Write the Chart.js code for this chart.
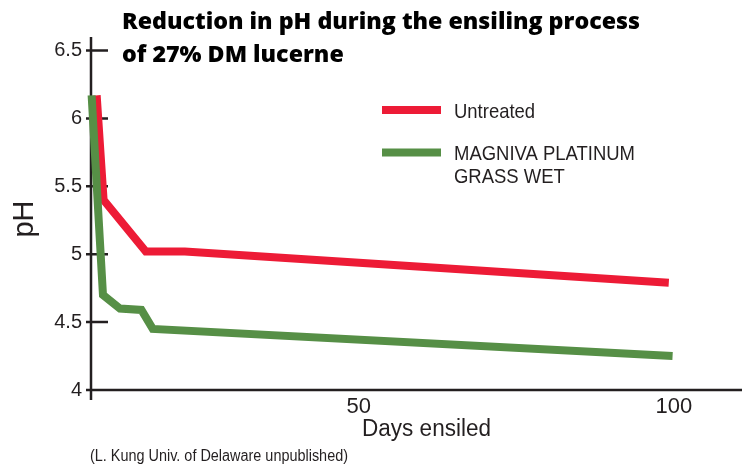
<!DOCTYPE html>
<html>
<head>
<meta charset="utf-8">
<script src="https://cdn.jsdelivr.net/npm/chart.js@4.4.1/dist/chart.umd.min.js"></script>
<style>
  html, body { margin: 0; padding: 0; background: #fff; }
  #wrap { width: 742px; height: 470px; }
</style>
</head>
<body>
<div id="wrap"><canvas id="chart" width="742" height="470"></canvas></div>
<script>
// ── Data ──
const untreatedDays = [8.4, 9.5, 16.2, 22.4, 99.2];
const untreatedPH   = [6.17, 5.40, 5.02, 5.02, 4.79];
const magnivaDays   = [7.6, 9.4, 12.1, 15.5, 17.3, 99.8];
const magnivaPH     = [6.17, 4.70, 4.60, 4.59, 4.45, 4.25];
const seriesNames   = ['Untreated', 'MAGNIVA PLATINUM\nGRASS WET'];
const xTicks = [50, 100];
const yTicks = [4, 4.5, 5, 5.5, 6, 6.5];
const titleLines = ['Reduction in pH during the ensiling process', 'of 27% DM lucerne'];
const xTitle = 'Days ensiled';
const yTitle = 'pH';
const sourceNote = '(L. Kung Univ. of Delaware unpublished)';

const INK = '#231f20';
const RED = '#ed1b36';
const GREEN = '#568f46';
const FONT = '"Liberation Sans", Arial, sans-serif';
const FONT_T = '"Open Sans", "Liberation Sans", sans-serif';

function toPoints(xs, ys) {
  return xs.map((x, i) => ({ x, y: ys[i] }));
}

// draws text stretched or squeezed horizontally by factor sx
function textScaled(ctx, text, x, y, sx) {
  ctx.save();
  ctx.translate(x, y);
  ctx.scale(sx, 1);
  ctx.fillText(text, 0, 0);
  ctx.restore();
}

// ── Axes lines and tick marks ──
const axesPlugin = {
  id: 'axesLines',
  beforeDatasetsDraw(chart) {
    const { ctx, chartArea: a, scales } = chart;
    ctx.save();
    ctx.strokeStyle = INK;
    ctx.lineWidth = 2.5;
    ctx.beginPath();
    ctx.moveTo(a.left, a.top);
    ctx.lineTo(a.left, a.bottom + 10);
    ctx.moveTo(a.left - 5, a.bottom);
    ctx.lineTo(742, a.bottom);
    yTicks.forEach(v => {
      const y = scales.y.getPixelForValue(v);
      ctx.moveTo(a.left - 5, y);
      ctx.lineTo(a.left + 17, y);
    });
    ctx.stroke();
    ctx.restore();
  }
};

// ── Title, legend, axis titles, source ──
const textPlugin = {
  id: 'texts',
  afterDraw(chart) {
    const { ctx } = chart;
    ctx.save();
    ctx.textBaseline = 'alphabetic';
    ctx.textAlign = 'left';

    // title
    ctx.fillStyle = '#000';
    ctx.font = '800 22px ' + FONT_T;
    const tsx = 518 / ctx.measureText(titleLines[0]).width;
    textScaled(ctx, titleLines[0], 122, 29, tsx);
    textScaled(ctx, titleLines[1], 122, 62, tsx);

    // legend
    const ds = chart.data.datasets;
    const rows = [110, 152.5];
    ctx.font = '21px ' + FONT;
    const lsx = 181 / ctx.measureText('MAGNIVA PLATINUM').width;
    ds.forEach((d, i) => {
      ctx.fillStyle = d.borderColor;
      ctx.fillRect(382, rows[i] - 4, 59, 8);
      ctx.fillStyle = INK;
      seriesNames[i].split('\n').forEach((line, k) => {
        textScaled(ctx, line, 454, rows[i] + 7.5 + k * 22.5, lsx);
      });
    });

    // x title
    ctx.fillStyle = INK;
    ctx.font = '23px ' + FONT;
    textScaled(ctx, xTitle, 362, 436, 129 / ctx.measureText(xTitle).width);

    // y title
    ctx.save();
    ctx.translate(33, 219);
    ctx.rotate(-Math.PI / 2);
    ctx.textAlign = 'center';
    ctx.font = '29px ' + FONT;
    ctx.fillText(yTitle, 0, 0);
    ctx.restore();

    // source
    ctx.font = '16px ' + FONT;
    textScaled(ctx, sourceNote, 90, 461, 258 / ctx.measureText(sourceNote).width);
    ctx.restore();
  }
};

new Chart(document.getElementById('chart'), {
  type: 'line',
  data: {
    datasets: [
      {
        label: seriesNames[0],
        data: toPoints(untreatedDays, untreatedPH),
        borderColor: RED,
        backgroundColor: RED,
        borderWidth: 8,
        borderCapStyle: 'butt',
        borderJoinStyle: 'miter',
        pointRadius: 0,
        tension: 0,
        clip: false,
        order: 2,
      },
      {
        label: seriesNames[1],
        data: toPoints(magnivaDays, magnivaPH),
        borderColor: GREEN,
        backgroundColor: GREEN,
        borderWidth: 8,
        borderCapStyle: 'butt',
        borderJoinStyle: 'miter',
        pointRadius: 0,
        tension: 0,
        clip: false,
        order: 1,
      },
    ],
  },
  options: {
    responsive: false,
    animation: false,
    layout: { padding: { top: 37, right: 2, left: 0, bottom: 0 } },
    plugins: { legend: { display: false }, title: { display: false }, tooltip: { enabled: false } },
    scales: {
      x: {
        type: 'linear',
        min: 7.5,
        max: 110.5,
        afterBuildTicks: s => { s.ticks = xTicks.map(v => ({ value: v })); },
        afterFit: s => { s.height = 80; },
        grid: { display: false, drawTicks: false },
        border: { display: false },
        ticks: { color: INK, font: { family: FONT, size: 22 }, padding: 4, maxRotation: 0, autoSkip: false },
      },
      y: {
        type: 'linear',
        min: 4,
        max: 6.6,
        afterBuildTicks: s => { s.ticks = yTicks.map(v => ({ value: v })); },
        afterFit: s => { s.width = 91; },
        grid: { display: false, drawTicks: false },
        border: { display: false },
        ticks: {
          color: INK, font: { family: FONT, size: 20 }, padding: 9, autoSkip: false,
          callback: v => String(v),
        },
      },
    },
  },
  plugins: [axesPlugin, textPlugin],
});
</script>
</body>
</html>
